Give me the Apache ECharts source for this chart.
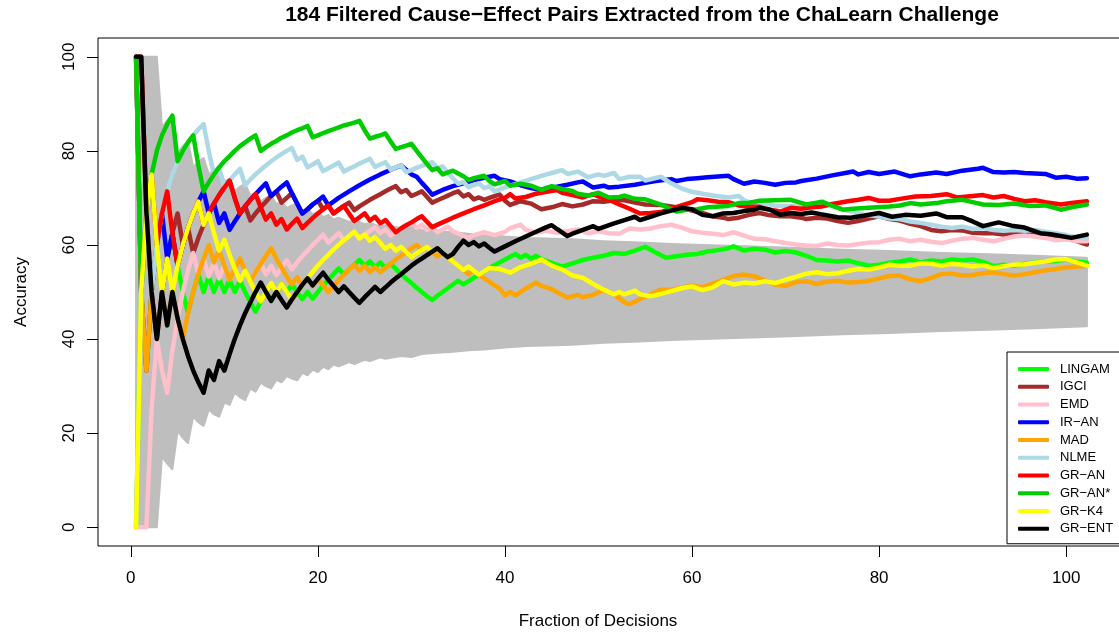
<!DOCTYPE html>
<html>
<head>
<meta charset="utf-8">
<script src="https://cdn.jsdelivr.net/npm/echarts@6/dist/echarts.min.js"></script>
<style>
  html, body { margin: 0; padding: 0; background: #fff; }
  #chart { width: 1119px; height: 634px; }
</style>
</head>
<body>
<div id="chart"></div>
<script>
// tick values
const xTicks = [0, 20, 40, 60, 80, 100];
const yTicks = [0, 20, 40, 60, 80, 100];

// 95% band of random guessing
const bandLow = [[0.56,0],[2.78,0],[3.33,15],[3.89,13.5],[4.44,12.3],[5.00,20.5],[5.56,19],[6.11,17.9],[6.67,23.5],[7.22,22.3],[7.78,21.5],[8.33,25],[8.89,24],[9.44,23.5],[10.00,26.5],[10.56,26],[11.11,28.6],[11.67,27.6],[12.22,27],[12.78,29.5],[13.33,28.8],[13.89,30.7],[14.44,30],[15.00,29.5],[15.56,31.3],[16.11,30.8],[16.67,32.1],[17.22,31.6],[17.78,31.2],[18.33,32.8],[18.89,32.3],[19.44,33.5],[20.00,33],[20.56,34.1],[21.11,33.6],[21.67,34.6],[22.22,34.2],[23.33,35.1],[23.89,34.7],[25.00,35.6],[25.56,35.3],[26.67,36.1],[27.22,35.8],[28.89,36.4],[30.00,36.2],[31.11,36.8],[32.78,37.1],[34.44,37.3],[36.11,37.6],[37.78,37.8],[40.00,38.2],[42.22,38.5],[44.44,38.6],[47.22,38.8],[50.56,39.2],[54.44,39.5],[57.78,39.8],[61.11,40],[65.56,40.3],[70.56,40.6],[76.11,41],[81.11,41.3],[86.67,41.7],[91.67,42],[96.67,42.3],[102.22,42.7]];
const bandHigh = [[0.56,100],[2.78,100],[3.33,85],[3.89,86.5],[4.44,87.7],[5.00,79.5],[5.56,81],[6.11,82.1],[6.67,76.5],[7.22,77.7],[7.78,78.5],[8.33,75],[8.89,76],[9.44,76.5],[10.00,73.5],[10.56,74],[11.11,71.4],[11.67,72.4],[12.22,73],[12.78,70.5],[13.33,71.2],[13.89,69.3],[14.44,70],[15.00,70.5],[15.56,68.7],[16.11,69.2],[16.67,67.9],[17.22,68.4],[17.78,68.8],[18.33,67.2],[18.89,67.7],[19.44,66.5],[20.00,67],[20.56,65.9],[21.11,66.4],[21.67,65.4],[22.22,65.8],[23.33,64.9],[23.89,65.3],[25.00,64.4],[25.56,64.7],[26.67,63.9],[27.22,64.2],[28.89,63.6],[30.00,63.8],[31.11,63.2],[32.78,62.9],[34.44,62.7],[36.11,62.4],[37.78,62.2],[40.00,61.8],[42.22,61.5],[44.44,61.4],[47.22,61.2],[50.56,60.8],[54.44,60.5],[57.78,60.2],[61.11,60],[65.56,59.7],[70.56,59.4],[76.11,59],[81.11,58.7],[86.67,58.3],[91.67,58],[96.67,57.7],[102.22,57.3]];

// accuracy curves, [fraction of decisions, accuracy]
const lingam = [[0.56,0],[1.11,50],[1.67,33.3],[2.22,50],[2.78,60],[3.33,50],[3.89,57.1],[4.44,62.5],[5.00,55.6],[5.56,50],[6.11,45.5],[6.67,50],[7.22,53.8],[7.78,50],[8.33,53.3],[8.89,50],[9.44,52.9],[10.00,50],[10.56,52.6],[11.11,50],[11.67,52.4],[12.22,50],[12.78,47.8],[13.33,45.8],[13.89,48],[14.44,50],[15.00,48.1],[15.56,50],[16.11,51.7],[16.67,50],[17.22,51.6],[17.78,50],[18.33,48.5],[18.89,50],[19.44,48.6],[20.00,50],[20.56,51.4],[21.11,52.6],[21.67,53.8],[22.22,55],[22.78,53.7],[23.33,54.8],[23.89,55.8],[24.44,56.8],[25.00,55.6],[25.56,56.5],[26.11,55.3],[26.67,56.3],[27.22,55.1],[27.78,56],[28.33,54.9],[28.89,53.8],[29.44,52.8],[30.00,51.9],[30.56,50.9],[31.11,50],[31.67,49.1],[32.22,48.3],[32.78,49.2],[33.33,50],[33.89,50.8],[34.44,51.6],[35.00,52.4],[35.56,51.6],[36.11,52.3],[36.67,53],[37.22,53.7],[37.78,54.4],[38.33,55.1],[38.89,55.7],[39.44,56.3],[40.00,56.9],[40.56,57.5],[41.11,58.1],[41.67,57.3],[42.22,57.9],[42.78,57.1],[43.33,57.7],[43.89,57],[45.00,56.2],[46.11,55.4],[47.22,56.1],[48.33,56.8],[49.44,57.3],[50.56,57.7],[51.67,58.3],[52.78,58.1],[53.89,58.8],[55.00,59.6],[56.11,58.4],[57.22,57.3],[58.33,57.6],[59.44,57.9],[60.56,58.1],[61.67,58.6],[62.78,58.9],[63.89,59.3],[64.44,59.7],[65.56,58.8],[66.67,59.2],[67.78,59],[68.89,58.4],[70.00,58.7],[71.11,58.4],[72.22,57.7],[73.33,56.8],[74.44,56.7],[75.56,56.5],[76.67,56.7],[77.78,56.1],[78.89,55.6],[80.00,55.8],[81.11,56.2],[82.22,56.5],[83.33,56.9],[84.44,56.3],[85.56,56.7],[86.67,56.5],[87.78,56.9],[88.89,56.7],[90.00,56.9],[91.11,56.4],[92.22,55.5],[93.33,55.8],[94.44,55.6],[95.56,56],[96.67,56.3],[97.78,56.5],[98.89,56.6],[100.00,56.9],[101.11,56.5],[102.22,56.2]];
const igci = [[0.56,100],[1.11,50],[1.67,33.3],[2.22,50],[2.78,40],[3.33,50],[3.89,57.1],[4.44,62.5],[5.00,66.7],[5.56,60],[6.11,63.6],[6.67,58.3],[7.22,61.5],[7.78,64.3],[8.33,66.7],[8.89,68.8],[9.44,70.6],[10.00,72.2],[10.56,73.7],[11.11,70],[11.67,66.7],[12.22,68.2],[12.78,65.2],[13.33,66.7],[13.89,68],[14.44,69.2],[15.00,70.4],[15.56,71.4],[16.11,69],[16.67,70],[17.22,71],[17.78,68.8],[18.33,66.7],[18.89,67.6],[19.44,68.6],[20.00,69.4],[20.56,67.6],[21.11,68.4],[21.67,66.7],[22.22,67.5],[22.78,68.3],[23.33,69],[23.89,67.4],[24.44,68.2],[25.00,68.9],[25.56,69.6],[26.11,70.2],[26.67,70.8],[27.22,71.4],[27.78,72],[28.33,72.5],[28.89,71.2],[29.44,71.7],[30.00,70.4],[30.56,70.9],[31.11,71.4],[31.67,70.2],[32.22,69],[32.78,69.5],[33.33,70],[33.89,70.5],[34.44,71],[35.00,71.4],[35.56,70.3],[36.11,70.8],[36.67,69.7],[37.22,70.1],[37.78,69.6],[38.33,70],[38.89,70.4],[39.44,70.7],[40.00,69.4],[40.56,68.5],[41.67,69.3],[42.78,68.8],[43.89,67.6],[45.00,68],[46.11,68.7],[47.22,68.2],[48.33,68.6],[49.44,69.3],[50.56,69.2],[51.67,69.5],[52.78,69.5],[53.89,69],[55.00,68.6],[56.67,68.5],[57.78,68.2],[58.89,67.8],[60.00,67.3],[61.11,66.8],[62.22,66.1],[63.33,65.8],[63.89,65.5],[65.00,65.8],[66.11,66.4],[67.22,66.8],[68.33,66.3],[69.44,66.1],[70.56,66.1],[71.67,65.8],[72.22,65.5],[73.33,65.8],[74.44,65.6],[75.56,65.1],[76.67,64.7],[77.78,65.1],[78.89,65.6],[80.00,66.1],[81.11,65.5],[82.22,65.2],[83.33,64.5],[84.44,64],[85.56,63.2],[86.67,62.9],[87.78,63.2],[88.89,63.1],[90.00,62.6],[91.11,62.5],[92.22,62.5],[93.33,62.2],[94.44,62.4],[95.56,62.8],[96.67,62.4],[97.78,62.1],[98.89,61.8],[100.00,61.4],[101.11,60.8],[102.22,60.1]];
const emd = [[0.56,0],[1.11,0],[1.67,0],[2.22,25],[2.78,40],[3.33,33.3],[3.89,28.6],[4.44,37.5],[5.00,44.4],[5.56,50],[6.11,54.5],[6.67,58.3],[7.22,53.8],[7.78,57.1],[8.33,53.3],[8.89,56.3],[9.44,52.9],[10.00,55.6],[10.56,52.6],[11.11,55],[11.67,52.4],[12.22,54.5],[12.78,52.2],[13.33,54.2],[13.89,56],[14.44,53.8],[15.00,55.6],[15.56,53.6],[16.11,55.2],[16.67,56.7],[17.22,54.8],[17.78,56.3],[18.33,57.6],[18.89,58.8],[19.44,60],[20.00,61.1],[20.56,62.2],[21.11,60.5],[21.67,61.5],[22.22,62.5],[22.78,61],[23.33,61.9],[23.89,62.8],[24.44,61.4],[25.00,62.2],[25.56,63],[26.11,63.8],[26.67,62.5],[27.22,63.3],[27.78,62],[28.33,62.7],[28.89,63.5],[29.44,64.2],[30.00,64.8],[30.56,63.6],[31.11,64.3],[31.67,63.2],[32.22,63.8],[32.78,62.7],[33.33,63.3],[33.89,63.9],[34.44,62.9],[35.56,61.9],[36.11,61.5],[36.67,62.1],[37.78,62.7],[38.89,62.1],[40.00,62.8],[40.56,63.6],[41.67,64.3],[42.22,63.2],[43.33,62.6],[44.44,63],[45.56,62.6],[46.67,62.9],[47.78,63.3],[48.89,62.5],[50.00,62.9],[51.11,62.5],[52.22,62.4],[53.33,63.5],[54.44,63.3],[55.56,63.5],[56.67,64],[57.78,64.3],[58.89,63.7],[60.00,62.9],[61.11,62.6],[62.22,62.4],[63.33,62.1],[64.44,62.7],[65.56,62],[66.67,61.3],[67.78,61.2],[68.89,60.8],[70.00,60.4],[71.11,60.1],[72.22,59.9],[73.33,59.8],[74.44,60.3],[75.56,60],[76.67,59.9],[77.78,60.2],[78.89,60.5],[80.00,60.6],[81.11,61.1],[82.22,61.3],[83.33,60.8],[84.44,61.1],[85.56,60.7],[86.67,60.4],[87.78,60.9],[88.89,61.3],[90.00,61.5],[91.11,61.1],[92.22,60.8],[93.33,61.3],[94.44,61.8],[95.56,62],[96.67,61.8],[97.78,61.5],[98.89,61],[100.00,61.2],[101.11,60.8],[102.22,60.8]];
const irAn = [[0.56,100],[1.11,50],[1.67,66.7],[2.22,50],[2.78,60],[3.33,66.7],[3.89,57.1],[4.44,62.5],[5.00,55.6],[5.56,60],[6.11,63.6],[6.67,66.7],[7.22,69.2],[7.78,71.4],[8.33,66.7],[8.89,68.8],[9.44,64.7],[10.00,66.7],[10.56,63.2],[11.11,65],[11.67,66.7],[12.22,68.2],[12.78,69.6],[13.33,70.8],[13.89,72],[14.44,73.1],[15.00,70.4],[15.56,71.4],[16.11,72.4],[16.67,73.3],[17.22,71],[17.78,68.8],[18.33,66.7],[18.89,67.6],[19.44,68.6],[20.00,69.4],[20.56,70.3],[21.11,68.4],[21.67,69.2],[22.22,70],[23.33,71.4],[24.44,72.7],[25.56,73.9],[26.67,75],[27.78,76],[28.89,76.9],[29.44,76],[30.00,75],[30.56,74.5],[31.11,73.2],[31.67,72],[32.22,70.7],[33.33,71.7],[34.44,72.5],[35.56,73.1],[36.67,73.8],[37.78,74.3],[38.89,74.7],[39.44,74],[40.56,73.5],[41.67,72.7],[42.78,72.1],[43.89,71.7],[44.44,72.1],[45.56,72.4],[46.67,72.8],[47.78,73.3],[48.33,73.5],[49.44,72.2],[50.56,72.6],[51.11,72.2],[52.22,72.4],[53.89,72.8],[55.00,73.2],[56.11,73.6],[57.78,74],[58.33,73.6],[59.44,74],[60.56,74.2],[61.67,74.4],[63.89,74.7],[64.44,74],[65.56,73],[66.67,73.5],[67.78,73.2],[68.89,72.8],[70.00,73.2],[71.11,73.3],[71.67,73.6],[73.33,74.1],[75.00,74.8],[76.67,75.4],[77.22,75.6],[77.78,75],[78.89,75.5],[80.00,75.1],[81.67,75.6],[83.33,74.6],[84.44,75],[86.11,75.4],[87.22,75.1],[88.89,75.8],[90.56,76.2],[91.11,76.4],[92.22,75.5],[93.33,75.4],[94.44,75.5],[95.56,75.3],[96.67,75.2],[97.78,75.1],[98.89,74.3],[100.00,74.5],[101.11,74.1],[102.22,74.2]];
const mad = [[0.56,100],[1.11,50],[1.67,33.3],[2.22,50],[2.78,60],[3.33,50],[3.89,42.9],[4.44,50],[5.00,44.4],[5.56,40],[6.11,45.5],[6.67,50],[7.22,53.8],[7.78,57.1],[8.33,60],[8.89,56.3],[9.44,58.8],[10.00,55.6],[10.56,52.6],[11.11,55],[11.67,57.1],[12.22,54.5],[12.78,52.2],[13.33,54.2],[13.89,56],[14.44,57.7],[15.00,59.3],[15.56,57.1],[16.11,55.2],[16.67,53.3],[17.22,51.6],[17.78,53.1],[18.33,51.5],[18.89,52.9],[19.44,51.4],[20.00,52.8],[20.56,51.4],[21.11,50],[21.67,51.3],[22.22,52.5],[22.78,53.7],[23.33,54.8],[23.89,55.8],[24.44,54.5],[25.00,55.6],[25.56,54.3],[26.11,55.3],[26.67,54.2],[27.22,55.1],[27.78,56],[28.33,56.9],[28.89,57.7],[29.44,58.5],[30.00,59.3],[30.56,60],[31.11,58.9],[31.67,59.6],[32.22,58.6],[32.78,57.6],[33.33,58.3],[33.89,57.4],[34.44,56.5],[35.00,55.6],[35.56,54.7],[36.11,53.8],[36.67,54.5],[37.22,53.7],[37.78,52.9],[38.33,52.2],[38.89,51.4],[39.44,50.7],[40.00,49.3],[40.56,50],[41.11,49.3],[42.22,50.7],[43.33,52],[43.89,51.3],[45.00,50.6],[46.11,49.4],[46.67,48.8],[47.78,49.4],[48.33,48.9],[49.44,49.4],[50.56,50.5],[51.67,49.5],[52.78,47.8],[53.33,47.4],[54.44,48.5],[55.56,49.5],[56.67,50.5],[57.78,50.5],[58.89,50.9],[60.00,51.4],[61.11,51],[62.22,51.8],[63.33,52.6],[64.44,53.4],[65.56,53.7],[66.67,53.3],[67.78,52.5],[68.89,51.6],[70.00,51.3],[71.11,52.1],[72.22,52.3],[73.33,51.7],[74.44,52.2],[75.56,52.4],[76.67,52],[77.78,52.1],[78.89,52.4],[80.00,52.9],[81.11,53.4],[82.22,53.5],[83.33,52.7],[84.44,52.3],[85.56,53],[86.67,53.8],[87.78,53.9],[88.89,53.5],[90.00,53.6],[91.11,54],[92.22,54.2],[93.33,53.8],[94.44,53.5],[95.56,53.8],[96.67,54.2],[97.78,54.6],[98.89,54.9],[100.00,55.2],[101.11,55.4],[102.22,55.6]];
const nlme = [[0.56,0],[1.11,50],[1.67,66.7],[2.22,50],[2.78,60],[3.33,66.7],[3.89,71.4],[4.44,75],[5.00,77.8],[5.56,80],[6.11,81.8],[6.67,83.3],[7.22,84.6],[7.78,85.7],[8.33,80],[8.89,75],[9.44,76.5],[10.00,72.2],[10.56,73.7],[11.11,75],[11.67,76.2],[12.22,72.7],[12.78,73.9],[13.33,75],[13.89,76],[14.44,76.9],[15.00,77.8],[15.56,78.6],[16.11,79.3],[16.67,80],[17.22,80.6],[17.78,78.1],[18.33,78.8],[18.89,76.5],[19.44,77.1],[20.00,77.8],[20.56,75.7],[21.11,76.3],[21.67,76.9],[22.22,77.5],[22.78,75.6],[23.33,76.2],[23.89,76.7],[24.44,77.3],[25.00,77.8],[25.56,78.3],[26.11,76.6],[26.67,77.1],[27.22,77.6],[27.78,76],[28.33,76.5],[28.89,76.9],[29.44,75.5],[30.00,75.9],[30.56,76.4],[31.11,76.8],[31.67,77.2],[32.22,77.6],[32.78,76.3],[33.33,76.7],[33.89,75.4],[34.44,74.2],[35.00,73],[35.56,73.4],[36.11,72.3],[36.67,72.7],[37.22,73.1],[37.78,72.1],[38.33,72.5],[38.89,71.4],[39.44,71.8],[40.56,72.6],[41.67,73.3],[42.78,74],[43.89,74.7],[45.00,75.3],[46.11,75.9],[46.67,75.1],[47.78,75.6],[48.89,74.4],[50.00,75],[50.56,74.7],[51.67,75.3],[52.22,74],[53.33,74.5],[54.44,74.5],[55.00,73.7],[56.67,74.5],[57.78,73.1],[58.89,72],[60.00,71.3],[61.11,70.9],[62.22,70.5],[63.89,70.1],[65.00,70.4],[65.56,69.5],[66.67,68.8],[67.78,68.9],[68.89,68.3],[70.00,68.3],[71.11,68.2],[72.22,67.8],[73.33,68.2],[75.00,68.5],[76.11,67.6],[77.22,67],[78.33,66.4],[79.44,66.2],[81.11,65.6],[82.22,65.5],[83.33,65],[84.44,64.7],[85.56,64.3],[86.67,63.9],[87.78,63.6],[88.89,63.9],[90.00,63.4],[91.11,63.6],[92.22,63.2],[93.33,63],[94.44,63.2],[95.56,63],[96.67,63.2],[97.78,62.8],[98.89,62.5],[100.00,62.1],[101.11,61.6],[102.22,61.4]];
const grAn = [[0.56,100],[1.11,100],[1.67,66.7],[2.22,75],[2.78,60],[3.33,66.7],[3.89,71.4],[4.44,62.5],[5.00,55.6],[5.56,60],[6.11,63.6],[6.67,66.7],[7.22,69.2],[7.78,64.3],[8.33,66.7],[8.89,68.8],[9.44,70.6],[10.00,72.2],[10.56,73.7],[11.11,70],[11.67,66.7],[12.22,68.2],[12.78,69.6],[13.33,70.8],[13.89,68],[14.44,65.4],[15.00,66.7],[15.56,64.3],[16.11,65.5],[16.67,63.3],[17.22,64.5],[17.78,65.6],[18.33,63.6],[18.89,64.7],[19.44,65.7],[20.00,66.7],[20.56,67.6],[21.11,68.4],[21.67,66.7],[22.22,67.5],[22.78,68.3],[23.33,66.7],[23.89,65.1],[24.44,65.9],[25.00,66.7],[25.56,65.2],[26.11,66],[26.67,64.6],[27.22,65.3],[27.78,64],[28.33,62.7],[28.89,63.5],[29.44,64.2],[30.00,64.8],[30.56,65.5],[31.11,66.1],[31.67,64.9],[32.22,63.8],[33.33,64.8],[34.44,65.8],[35.56,66.7],[36.67,67.6],[37.78,68.4],[38.89,69.3],[40.00,70],[40.56,70.8],[41.11,69.9],[42.22,70.2],[43.33,70.9],[44.44,71.3],[45.56,71.7],[46.11,71.1],[47.22,70.6],[48.33,70.1],[49.44,70.8],[50.00,70.3],[51.11,69.6],[52.22,68.6],[53.33,67.7],[54.44,66.7],[55.56,66.8],[56.67,67],[57.78,67.7],[58.89,68.4],[60.00,69.1],[60.56,69.7],[61.67,69.5],[62.78,69.2],[63.89,69.1],[65.00,68.4],[66.11,68.1],[67.22,68.1],[68.33,67.5],[69.44,67.1],[70.56,67.9],[71.67,67.7],[72.78,68],[73.89,68.2],[75.00,68.7],[76.67,69.3],[77.78,69.6],[78.89,70],[80.00,69.4],[81.11,69.4],[82.22,69.8],[83.89,70.3],[85.56,70.4],[87.22,70.8],[88.33,70.1],[89.44,70.3],[91.11,70.6],[92.22,70.1],[93.33,70.4],[94.44,69.8],[95.56,69.3],[96.67,69.5],[97.78,69.1],[99.44,68.6],[100.56,68.9],[102.22,69.3]];
const grAnStar = [[0.56,100],[1.11,50],[1.67,66.7],[2.22,75],[2.78,80],[3.33,83.3],[3.89,85.7],[4.44,87.5],[5.00,77.8],[5.56,80],[6.11,81.8],[6.67,83.3],[7.22,76.9],[7.78,71.4],[8.33,73.3],[8.89,75],[9.44,76.5],[10.00,77.8],[10.56,78.9],[11.11,80],[11.67,81],[12.22,81.8],[12.78,82.6],[13.33,83.3],[13.89,80],[14.44,80.8],[15.00,81.5],[15.56,82.1],[16.11,82.8],[16.67,83.3],[17.22,83.9],[17.78,84.4],[18.33,84.8],[18.89,85.3],[19.44,82.9],[20.00,83.3],[20.56,83.8],[21.11,84.2],[21.67,84.6],[22.22,85],[22.78,85.4],[23.33,85.7],[23.89,86],[24.44,86.4],[25.00,84.4],[25.56,82.6],[26.11,83],[26.67,83.3],[27.22,83.7],[27.78,82],[28.33,80.4],[28.89,80.8],[29.44,81.1],[30.00,81.5],[30.56,80],[31.11,78.6],[31.67,77.2],[32.22,75.9],[32.78,76.3],[33.33,75],[34.44,75.8],[35.56,74.6],[36.11,73.8],[36.67,74.2],[37.78,74.7],[38.33,73.6],[38.89,72.9],[40.00,73.6],[40.56,72.6],[41.67,73],[42.78,72.6],[43.89,71.7],[45.00,72.5],[46.11,71.9],[47.22,71.5],[47.78,70.9],[48.89,70.5],[50.00,71.1],[51.11,70.1],[52.22,70.2],[52.78,70.5],[53.89,69.8],[55.00,69.7],[56.67,68.6],[57.78,67.6],[58.33,67.1],[59.44,67.5],[60.56,67.6],[61.67,68],[63.89,68.3],[65.00,68.9],[66.11,69],[67.22,69.4],[68.89,69.5],[70.56,69.6],[72.22,68.6],[73.33,69],[73.89,69.2],[75.00,68.3],[76.11,67.5],[77.22,67.7],[78.89,67.9],[81.11,68.2],[82.22,68.4],[83.33,68.9],[84.44,68.6],[86.11,68.9],[87.22,69.3],[88.89,69.6],[90.00,69.1],[91.11,68.6],[92.78,68.5],[94.44,68.8],[96.11,68.3],[97.78,68.4],[99.44,67.5],[100.56,68],[102.22,68.6]];
const grK4 = [[0.56,0],[1.11,50],[1.67,66.7],[2.22,75],[2.78,60],[3.33,50],[3.89,57.1],[4.44,50],[5.00,55.6],[5.56,60],[6.11,63.6],[6.67,66.7],[7.22,69.2],[7.78,64.3],[8.33,66.7],[8.89,62.5],[9.44,58.8],[10.00,61.1],[10.56,57.9],[11.11,55],[11.67,52.4],[12.22,54.5],[12.78,52.2],[13.33,50],[13.89,48],[14.44,50],[15.00,51.9],[15.56,50],[16.11,51.7],[16.67,50],[17.22,48.4],[17.78,50],[18.33,51.5],[18.89,52.9],[19.44,54.3],[20.00,55.6],[20.56,56.8],[21.11,57.9],[21.67,59],[22.22,60],[22.78,61],[23.33,61.9],[23.89,62.8],[24.44,61.4],[25.00,62.2],[25.56,60.9],[26.11,61.7],[26.67,60.4],[27.22,59.2],[27.78,60],[28.33,58.8],[28.89,59.6],[29.44,58.5],[30.00,57.4],[30.56,58.2],[31.11,58.9],[31.67,59.6],[32.22,58.6],[32.78,59.3],[33.33,58.3],[33.89,57.4],[34.44,56.5],[35.00,55.6],[35.56,54.7],[36.11,55.4],[36.67,54.5],[37.22,53.7],[38.33,55.1],[39.44,54.9],[40.56,54.1],[41.67,55.3],[42.78,56],[43.89,56.9],[45.00,55.6],[46.11,54.8],[47.22,53.5],[48.33,53],[49.44,51.7],[50.56,50.5],[51.67,49.5],[52.22,50],[52.78,49.5],[53.89,50.3],[54.44,49.5],[55.56,49.1],[56.67,49.6],[57.78,50.2],[58.89,50.8],[60.00,51.2],[61.11,50.4],[62.22,51],[63.33,52.3],[64.44,51.6],[65.56,52],[66.67,51.8],[67.78,52.3],[68.89,51.9],[70.00,52.6],[71.11,53.2],[72.22,53.9],[73.33,54.2],[74.44,53.8],[75.56,54],[76.67,54.5],[77.78,54.9],[78.89,54.8],[80.00,55.2],[81.11,55.8],[82.22,55.6],[83.33,55.6],[84.44,56.1],[85.56,56],[86.67,55.6],[87.78,56],[88.89,55.8],[90.00,55.4],[91.11,55.7],[92.22,55.1],[93.33,55.5],[94.44,55.8],[95.56,55.9],[96.67,56.2],[97.78,56.5],[98.89,56.9],[100.00,57],[101.11,56.3],[102.22,55.6]];
const grEnt = [[0.56,100],[1.11,100],[1.67,66.7],[2.22,50],[2.78,40],[3.33,50],[3.89,42.9],[4.44,50],[5.00,44.4],[5.56,40],[6.11,36.4],[6.67,33.3],[7.22,30.8],[7.78,28.6],[8.33,33.3],[8.89,31.3],[9.44,35.3],[10.00,33.3],[10.56,36.8],[11.11,40],[11.67,42.9],[12.22,45.5],[12.78,47.8],[13.33,50],[13.89,52],[14.44,50],[15.00,48.1],[15.56,50],[16.11,48.3],[16.67,46.7],[17.22,48.4],[17.78,50],[18.33,51.5],[18.89,52.9],[19.44,51.4],[20.00,52.8],[20.56,54.1],[21.11,52.6],[21.67,51.3],[22.22,50],[22.78,51.2],[23.33,50],[23.89,48.8],[24.44,47.7],[25.00,48.9],[25.56,50],[26.11,51.1],[26.67,50],[27.22,51],[27.78,52],[28.33,52.9],[28.89,53.8],[29.44,54.7],[30.00,55.6],[30.56,56.4],[31.11,57.1],[32.22,58.6],[32.78,59.3],[33.33,58.3],[33.89,57.4],[34.44,58.1],[35.00,59.6],[35.56,60.9],[36.11,60],[36.67,60.6],[37.22,59.7],[37.78,60.3],[38.33,59.4],[38.89,58.6],[40.00,59.7],[41.11,60.8],[42.22,61.8],[43.33,62.8],[44.44,63.8],[45.00,64.2],[45.56,63.4],[46.67,61.9],[47.22,62.4],[48.33,63.2],[49.44,64],[50.00,63.4],[51.67,64.6],[52.78,65.3],[53.89,66],[54.44,65.3],[55.56,66],[56.67,66.7],[57.78,67.3],[58.89,67.9],[60.00,67.6],[61.11,66.4],[62.22,66.1],[63.33,66.7],[64.44,66.8],[65.56,67.2],[66.67,67.5],[67.22,67.9],[68.33,67.5],[69.44,66.4],[70.56,66.8],[71.67,66.6],[72.78,66.9],[73.89,66.5],[75.56,65.9],[76.94,65.8],[78.33,66.2],[80.00,66.8],[81.39,66],[82.78,66.4],[84.44,66.2],[86.11,66.7],[87.22,65.9],[88.89,65.9],[90.00,65],[91.11,64],[92.78,64.8],[94.17,64.1],[95.56,63.7],[97.22,62.5],[98.33,62.3],[99.72,61.8],[100.56,61.5],[102.22,62.2]];

const seriesNames = ['LINGAM', 'IGCI', 'EMD', 'IR\u2212AN', 'MAD', 'NLME', 'GR\u2212AN', 'GR\u2212AN*', 'GR\u2212K4', 'GR\u2212ENT'];
const seriesColors = ['#00ff00', '#a52a2a', '#ffc0cb', '#0000ff', '#ffa500', '#add8e6', '#ff0000', '#00cd00', '#ffff00', '#000000'];
const seriesData = [lingam, igci, emd, irAn, mad, nlme, grAn, grAnStar, grK4, grEnt];

const font = '"Liberation Sans", Arial, Helvetica, sans-serif';

const chart = echarts.init(document.getElementById('chart'), null, { renderer: 'canvas' });

const lines = seriesNames.map(function (name, i) {
  return {
    name: name,
    type: 'line',
    data: seriesData[i],
    showSymbol: false,
    symbol: 'none',
    color: seriesColors[i],
    lineStyle: { width: 4.5, color: seriesColors[i], cap: 'round', join: 'round' },
    emphasis: { disabled: true },
    z: 3
  };
});

const option = {
  animation: false,
  backgroundColor: '#ffffff',
  title: [
    {
      text: '184 Filtered Cause\u2212Effect Pairs Extracted from the ChaLearn Challenge',
      left: 642, top: 5, textAlign: 'center', padding: 0,
      textStyle: { fontFamily: font, fontSize: 21, fontWeight: 'bold', color: '#000' }
    },
    {
      text: 'Fraction of Decisions',
      left: 598, top: 613, textAlign: 'center', padding: 0,
      textStyle: { fontFamily: font, fontSize: 17, fontWeight: 'normal', color: '#000' }
    }
  ],
  grid: {
    left: 98, top: 38, width: 1027, height: 508,
    show: true, borderColor: '#000', borderWidth: 1, backgroundColor: 'transparent',
    containLabel: false, outerBoundsMode: 'none'
  },
  legend: {
    orient: 'vertical',
    left: 1007, top: 352,
    data: seriesNames,
    icon: 'roundRect',
    itemWidth: 31, itemHeight: 4, itemGap: 3.75,
    padding: [10, 40, 8, 11],
    backgroundColor: '#fff', borderColor: '#000', borderWidth: 1, borderRadius: 0,
    selectedMode: false,
    textStyle: { fontFamily: font, fontSize: 13, color: '#000', lineHeight: 14, padding: [0, 0, 0, 6] }
  },
  xAxis: {
    type: 'value', min: -3.51, max: 106.29,
    axisLine: { show: false, onZero: false },
    splitLine: { show: false },
    axisTick: { show: true, inside: false, length: 11, lineStyle: { color: '#000', width: 1 }, customValues: xTicks },
    axisLabel: { customValues: xTicks, color: '#000', fontSize: 17, fontFamily: font, margin: 24 }
  },
  yAxis: {
    type: 'value', min: -4, max: 104,
    name: 'Accuracy', nameLocation: 'middle', nameRotate: 90, nameGap: 68,
    nameTextStyle: { fontFamily: font, fontSize: 17, color: '#000' },
    axisLine: { show: false, onZero: false },
    splitLine: { show: false },
    axisTick: { show: true, inside: false, length: 11, lineStyle: { color: '#000', width: 1 }, customValues: yTicks },
    axisLabel: { customValues: yTicks, rotate: 90, color: '#000', fontSize: 17, fontFamily: font, margin: 20 }
  },
  series: [
    {
      name: 'band',
      type: 'custom',
      silent: true,
      z: 1,
      data: [[0, 0]],
      renderItem: function (params, api) {
        const pts = [];
        bandHigh.forEach(function (p) { pts.push(api.coord(p)); });
        for (let i = bandLow.length - 1; i >= 0; i--) pts.push(api.coord(bandLow[i]));
        return {
          type: 'polygon',
          shape: { points: pts },
          style: { fill: '#bebebe', stroke: '#bebebe', lineWidth: 2, lineJoin: 'round' }
        };
      }
    }
  ].concat(lines)
};

chart.setOption(option);
</script>
</body>
</html>
